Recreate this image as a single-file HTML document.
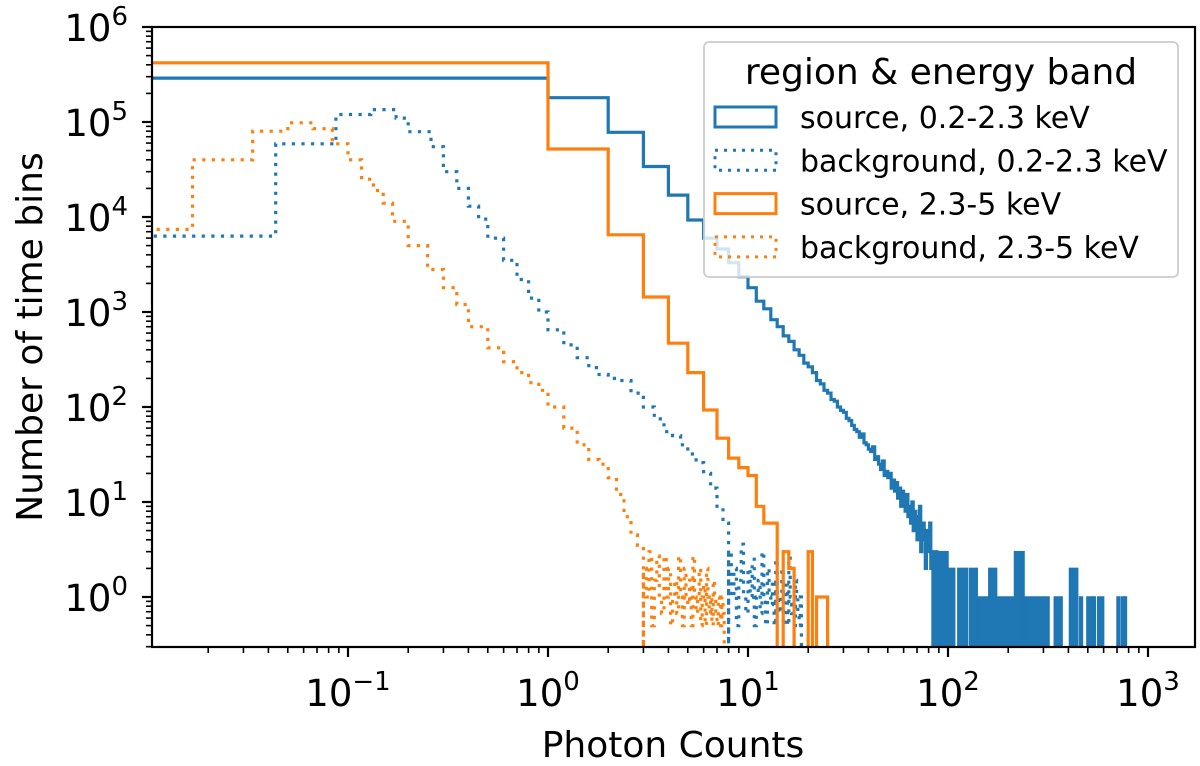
<!DOCTYPE html>
<html><head><meta charset="utf-8"><style>
html,body{margin:0;padding:0;background:#fff}
svg{display:block;font-family:"DejaVu Sans","Liberation Sans",sans-serif}
</style></head><body>
<svg id="chart" width="1200" height="766" viewBox="0 0 1200 766">
<defs><clipPath id="plotclip"><rect x="152" y="27" width="1043" height="620"/></clipPath></defs>
<rect x="0" y="0" width="1200" height="766" fill="#fff"/>
<g id="series" clip-path="url(#plotclip)"></g>
<g id="axes"></g>
</svg>
<script>
// ---- data ----
const blueSrcCounts = [290000,180000,78000,34000,17000,9300,6000,4600,3300,2350,1800,1300,1080,830,700,560,490,400,350,290,265,230,190,175,150,140,120,115,100,92,88,76,72,64,58,55,48,52,42,40,36,34,38,28,30,25,22,27,19,21,18,20,14,17,13,16,11,14,9,13,10,8,12,7,9,6,10,5,8,7,4,6,9,3,5,6,4,2,5,3,4,6,2,3,0,2,1,3,0,2];
const blueTailStart = [90,100,108,112,125,128,140,160,175,215,240,320,340,372,405,445,455,470,495,530,545,560,600,640,700,720,735,760];
const blueTailEnd   = [100,108,112,125,128,140,160,175,215,240,320,340,372,405,445,455,470,495,530,545,560,600,640,700,720,735,760,780];
const blueTailVals  = [3,2,0,2,0,2,1,2,1,3,1,0,1,0,2,0,1,0,1,1,0,1,0,0,1,0,1,1];
const orangeSrcCounts = [420000,52000,6500,1440,470,230,93,47,29,23,19,9,6,6,0,3,2,0,0,0,3,0,1,1,1];
const blueBgEdges = [0,0.0435,0.087,0.13,0.174,0.2,0.26,0.3,0.35,0.4,0.45,0.5,0.6,0.7,0.8,0.9,1.0,1.2,1.4,1.6,1.8,2.0,2.3,2.6,3.0,3.4,3.8,4.2,4.6,5.0,5.5,6.0,6.5,7.0,7.5,8.0];
const blueBgVals = [6300,59000,120000,135000,110000,79000,55000,30000,20000,13000,9500,6000,3500,2200,1400,1000,650,450,330,260,220,200,190,140,100,75,55,50,40,32,26,20,14,9,6];
const blueNoiseVals = [3,1,2,0.5,1.5,3.6,1,0.67,2,1,2.5,0.5,1,1.5,0.67,3,1,0.5,2,1,0.83,1.5,0.5,2.5,1,0.67,1,2,0.5,1,1.33,0.5,3,1,0.67,1,0.5,1.5,1,0.67,0.5,1];
const orangeBgEdges = [0,0.0167,0.0334,0.05,0.0668,0.0835,0.1,0.117,0.134,0.15,0.167,0.2,0.25,0.3,0.35,0.4,0.5,0.6,0.7,0.8,0.9,1.0,1.2,1.4,1.6,1.8,2.0,2.2,2.4,2.6,2.8,3.0];
const orangeBgVals = [7400,40000,80000,98000,85000,59000,40000,25000,19000,14000,9000,5000,2800,1800,1200,700,420,300,230,180,150,100,60,40,28,25,18,12,7,4.5,3.5];
const orangeNoiseVals = [2,1,3,0.5,1.5,2.7,1,0.67,2.7,1,2,0.5,1,1.5,0.67,2.7,1,0.5,2,1,0.83,1.5,0.5,2.7,1,0.67,1,2,0.5,1,1.33,0.5,2,1,0.67,1,0.5,1.5,1,0.67,0.5,1,0.83,0.5,1,0.67];
const xTicks = [-1,0,1,2,3];
const yTicks = [0,1,2,3,4,5,6];

// ---- scales ----
const X = v => v <= 0 ? 100 : 548 + 200*Math.log10(v);
const Y = v => v <= 0 ? 720 : 597 - 95*Math.log10(v);
const NS = "http://www.w3.org/2000/svg";
const gS = document.getElementById('series');
const gA = document.getElementById('axes');
const BLUE = "#1f77b4", ORANGE = "#ff7f0e";
const RIGHT = 1195;

function stepPath(edges, vals){
  let d = `M${X(edges[0]).toFixed(1)},720`;
  for(let i=0;i<vals.length;i++){
    const y = Y(vals[i]).toFixed(1);
    d += `L${X(edges[i]).toFixed(1)},${y}L${X(edges[i+1]).toFixed(1)},${y}`;
  }
  d += `L${X(edges[edges.length-1]).toFixed(1)},720`;
  return d;
}
function addPath(d, color, dotted, name){
  const p = document.createElementNS(NS,'path');
  p.setAttribute('d', d);
  p.setAttribute('fill','none');
  p.setAttribute('stroke', color);
  p.setAttribute('stroke-width','3.2');
  if(dotted){ p.setAttribute('stroke-dasharray','3.2 6.4'); }
  
  
  gS.appendChild(p);
  return p;
}
const intEdges = n => Array.from({length:n+1},(_,i)=>i);

addPath(stepPath(blueBgEdges, blueBgVals), BLUE, true, 'series-background-soft');
const bnE = blueNoiseVals.map((_,i)=>8+i*0.25); bnE.push(8+blueNoiseVals.length*0.25);
addPath(stepPath(bnE, blueNoiseVals), BLUE, true, 'series-background-soft-tail');
addPath(stepPath(orangeBgEdges, orangeBgVals), ORANGE, true, 'series-background-hard');
const onE = orangeNoiseVals.map((_,i)=>3+i*0.1); onE.push(3+orangeNoiseVals.length*0.1);
addPath(stepPath(onE, orangeNoiseVals), ORANGE, true, 'series-background-hard-tail');
addPath(stepPath(intEdges(blueSrcCounts.length), blueSrcCounts), BLUE, false, 'series-source-soft');
for(let i=0;i<blueTailVals.length;i++){
  if(blueTailVals[i]<=0) continue;
  const r = document.createElementNS(NS,'rect');
  const x0 = X(blueTailStart[i]), x1 = X(blueTailEnd[i]), y = Y(blueTailVals[i]);
  r.setAttribute('x', x0); r.setAttribute('y', y);
  r.setAttribute('width', Math.max(1,x1-x0)); r.setAttribute('height', 660-y);
  r.setAttribute('fill', BLUE); r.setAttribute('stroke', BLUE); r.setAttribute('stroke-width','1.5');
  
  
  gS.appendChild(r);
}
addPath(stepPath(intEdges(orangeSrcCounts.length), orangeSrcCounts), ORANGE, false, 'series-source-hard');

// ---- axes ----
function el(tag, attrs, parent){
  const e = document.createElementNS(NS, tag);
  for(const k in attrs) e.setAttribute(k, attrs[k]);
  (parent||gA).appendChild(e); return e;
}
const frame = el('rect',{x:152,y:27,width:RIGHT-152,height:620,fill:'none',stroke:'#000','stroke-width':2.2});


for(let k=-2;k<=3;k++){
  for(let m=1;m<10;m++){
    const v = m*Math.pow(10,k), x = X(v);
    if(x<152||x>RIGHT) continue;
    const len = m===1?10:6;
    const t = el('line',{x1:x,x2:x,y1:647,y2:647+len,stroke:'#000','stroke-width':m===1?2.2:1.6});
    
    
  }
}
xTicks.forEach(k=>{
  const t = el('text',{x:X(Math.pow(10,k)),y:706,'font-size':37,'text-anchor':'middle',fill:'#000'});
  t.innerHTML = `10<tspan dy="-16" font-size="26">${k<0?'\u2212'+(-k):k}</tspan>`;
  
  
});
for(let k=-1;k<=6;k++){
  for(let m=1;m<10;m++){
    const v = m*Math.pow(10,k), y = Y(v);
    if(y<27||y>647) continue;
    const len = m===1?10:6;
    const t = el('line',{x1:152-len,x2:152,y1:y,y2:y,stroke:'#000','stroke-width':m===1?2.2:1.6});
    
    
  }
}
yTicks.forEach(k=>{
  const t = el('text',{x:128,y:Y(Math.pow(10,k))+14,'font-size':37,'text-anchor':'end',fill:'#000'});
  t.innerHTML = `10<tspan dy="-16" font-size="26">${k}</tspan>`;
  
  
});
const xt = el('text',{x:673,y:757,'font-size':36,'text-anchor':'middle',fill:'#000'});
xt.textContent = 'Photon Counts';


const yt = el('text',{x:0,y:0,'font-size':36,'text-anchor':'middle',fill:'#000',transform:'translate(42,337) rotate(-90)'});
yt.textContent = 'Number of time bins';



// ---- legend ----
const lg = el('g',{});


el('rect',{x:704,y:42,width:474,height:235,rx:5,fill:'#fff','fill-opacity':0.8,stroke:'#ccc','stroke-width':1.8},lg);
const lt = el('text',{x:941,y:84,'font-size':36,'text-anchor':'middle',fill:'#000'},lg);
lt.textContent = 'region & energy band';


const legLabels = ['source, 0.2-2.3 keV','background, 0.2-2.3 keV','source, 2.3-5 keV','background, 2.3-5 keV'];
const legColors = [BLUE,BLUE,ORANGE,ORANGE];
const legDotted = [false,true,false,true];
legLabels.forEach((s,i)=>{
  const cy = 117 + i*43.3;
  const g = el('g',{},lg);
  
  
  const r = el('rect',{x:715,y:cy-10,width:61,height:20,fill:'none',stroke:legColors[i],'stroke-width':3},g);
  if(legDotted[i]) r.setAttribute('stroke-dasharray','3 6');
  const t = el('text',{x:800,y:cy+11,'font-size':30,fill:'#000'},g);
  t.textContent = s;
});
</script>
</body></html>
